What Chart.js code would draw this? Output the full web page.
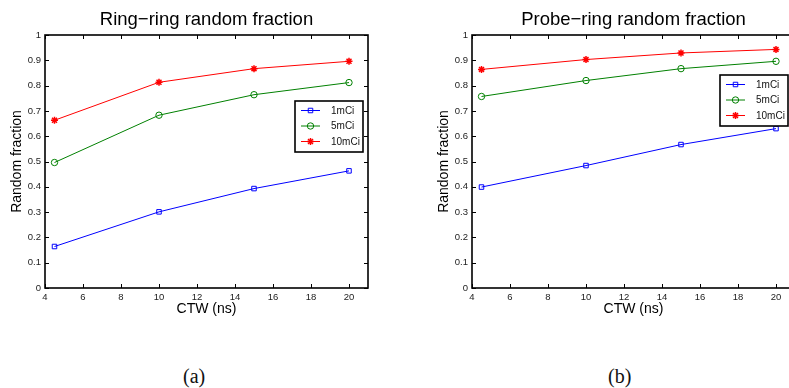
<!DOCTYPE html>
<html lang="en">
<head>
    <meta charset="UTF-8">
    <title>Random fraction vs CTW</title>
    <script src="https://cdn.jsdelivr.net/npm/chart.js@4.4.0/dist/chart.umd.min.js"></script>
    <style>
        body { margin: 0; width: 789px; height: 388px; overflow: hidden; background: #fff; position: relative; }
        .plot { position: absolute; top: 0; width: 400px; height: 320px; }
        .caption { position: absolute; top: 365px; font-family: "Liberation Serif", "DejaVu Serif", serif; font-size: 20px; color: #111; }
    </style>
</head>
<body>
    <div class="plot" style="left:0px"><canvas id="ringChart" width="400" height="320"></canvas></div>
    <div class="plot" style="left:427px"><canvas id="probeChart" width="400" height="320"></canvas></div>
    <div class="caption" style="left:183px">(a)</div>
    <div class="caption" style="left:608px">(b)</div>
    <script>
        // data
        const ctw = [4.5, 10, 15, 20];
        const seriesNames = ['1mCi', '5mCi', '10mCi'];
        const ringRing1 = [0.164, 0.301, 0.393, 0.463];
        const ringRing5 = [0.496, 0.683, 0.764, 0.812];
        const ringRing10 = [0.663, 0.813, 0.867, 0.896];
        const probeRing1 = [0.399, 0.484, 0.567, 0.630];
        const probeRing5 = [0.757, 0.820, 0.867, 0.896];
        const probeRing10 = [0.864, 0.903, 0.929, 0.943];
        const xTicks = [4, 6, 8, 10, 12, 14, 16, 18, 20];
        const yTicks = [0, 0.1, 0.2, 0.3, 0.4, 0.5, 0.6, 0.7, 0.8, 0.9, 1];

        const FONT = '"Liberation Sans", Arial, Helvetica, sans-serif';
        const colors = ['#0000ff', '#008000', '#ff0000'];
        const markers = ['rect', 'circle', 'star'];

        function pts(ys) {
            return ys.map((y, i) => ({ x: ctw[i], y: y }));
        }

        // box, inward ticks, title and the legend, matlab style
        const matlabFrame = {
            id: 'matlabFrame',
            afterDatasetsDraw(chart, args, opts) {
                const ctx = chart.ctx;
                const a = chart.chartArea;
                const xs = chart.scales.x, ys = chart.scales.y;
                ctx.save();
                ctx.strokeStyle = '#000';
                ctx.lineWidth = 1;
                ctx.beginPath();
                xTicks.forEach(v => {
                    const px = Math.round(xs.getPixelForValue(v)) + 0.5;
                    ctx.moveTo(px, a.bottom); ctx.lineTo(px, a.bottom - 4);
                    ctx.moveTo(px, a.top); ctx.lineTo(px, a.top + 4);
                });
                yTicks.forEach(v => {
                    const py = Math.round(ys.getPixelForValue(v)) + 0.5;
                    ctx.moveTo(a.left, py); ctx.lineTo(a.left + 4, py);
                    ctx.moveTo(a.right, py); ctx.lineTo(a.right - 4, py);
                });
                ctx.stroke();
                ctx.lineWidth = 1.6;
                ctx.strokeRect(a.left, a.top, a.right - a.left, a.bottom - a.top);

                // title
                ctx.fillStyle = '#000';
                ctx.font = '18.5px ' + FONT;
                ctx.textAlign = 'center';
                ctx.textBaseline = 'middle';
                ctx.fillText(opts.title, (a.left + a.right) / 2, a.top - 15);

                // legend
                const lw = 68, lh = 51;
                const lx = a.right - opts.legendRight - lw;
                const ly = a.top + opts.legendTop;
                ctx.fillStyle = '#fff';
                ctx.fillRect(lx, ly, lw, lh);
                ctx.lineWidth = 1.6;
                ctx.strokeStyle = '#000';
                ctx.strokeRect(lx, ly, lw, lh);
                chart.data.datasets.forEach((ds, i) => {
                    const cy = ly + 9.5 + i * 15.5;
                    ctx.strokeStyle = ds.borderColor;
                    ctx.lineWidth = 1;
                    ctx.beginPath();
                    ctx.moveTo(lx + 6, cy); ctx.lineTo(lx + 25, cy);
                    ctx.stroke();
                    ctx.fillStyle = 'rgba(0,0,0,0)';
                    ctx.lineWidth = ds.pointBorderWidth || 1;
                    Chart.helpers.drawPoint(ctx, {
                        pointStyle: ds.pointStyle, radius: ds.pointRadius,
                        borderWidth: ds.pointBorderWidth || 1, rotation: 0
                    }, lx + 15.5, cy);
                    ctx.fillStyle = '#111';
                    ctx.font = '10px ' + FONT;
                    ctx.textAlign = 'left';
                    ctx.textBaseline = 'middle';
                    ctx.fillText(ds.label, lx + 36, cy + 0.5);
                });
                ctx.restore();
            }
        };

        function makeChart(id, values, title, legendRight, legendTop) {
            const ctx = document.getElementById(id).getContext('2d');
            return new Chart(ctx, {
                type: 'line',
                data: {
                    datasets: values.map((v, i) => ({
                        label: seriesNames[i],
                        data: pts(v),
                        borderColor: colors[i],
                        backgroundColor: 'rgba(0,0,0,0)',
                        borderWidth: 1,
                        pointStyle: markers[i],
                        pointRadius: i === 2 ? 3.5 : 3.2,
                        pointBorderWidth: i === 2 ? 1.5 : 1,
                        pointBorderColor: colors[i],
                        pointBackgroundColor: 'rgba(0,0,0,0)',
                        tension: 0
                    }))
                },
                plugins: [matlabFrame],
                options: {
                    responsive: false,
                    animation: false,
                    events: [],
                    layout: { padding: { top: 35, right: 32, left: 0, bottom: 0 } },
                    plugins: {
                        legend: { display: false },
                        tooltip: { enabled: false },
                        matlabFrame: { title: title, legendRight: legendRight, legendTop: legendTop }
                    },
                    scales: {
                        x: {
                            type: 'linear', min: 4, max: 21,
                            afterBuildTicks: s => { s.ticks = xTicks.map(v => ({ value: v })); },
                            afterFit: s => { s.height = 32; },
                            grid: { display: false, drawTicks: false },
                            border: { display: false },
                            ticks: { padding: 4, color: '#222', font: { family: FONT, size: 9.5 }, maxRotation: 0 },
                            title: { display: true, text: 'CTW (ns)', color: '#000', font: { family: FONT, size: 14 }, padding: { top: 0, bottom: 2 } }
                        },
                        y: {
                            min: 0, max: 1,
                            afterBuildTicks: s => { s.ticks = yTicks.map(v => ({ value: v })); },
                            afterFit: s => { s.width = 45; },
                            grid: { display: false, drawTicks: false },
                            border: { display: false },
                            ticks: { padding: 4, color: '#222', font: { family: FONT, size: 9.5 }, callback: v => String(+v.toFixed(1)) },
                            title: { display: true, text: 'Random fraction', color: '#000', font: { family: FONT, size: 14 }, padding: { top: 9, bottom: 0 } }
                        }
                    }
                }
            });
        }

        makeChart('ringChart', [ringRing1, ringRing5, ringRing10], 'Ring\u2212ring random fraction', 5, 66);
        makeChart('probeChart', [probeRing1, probeRing5, probeRing10], 'Probe\u2212ring random fraction', 7, 40);
    </script>
</body>
</html>
